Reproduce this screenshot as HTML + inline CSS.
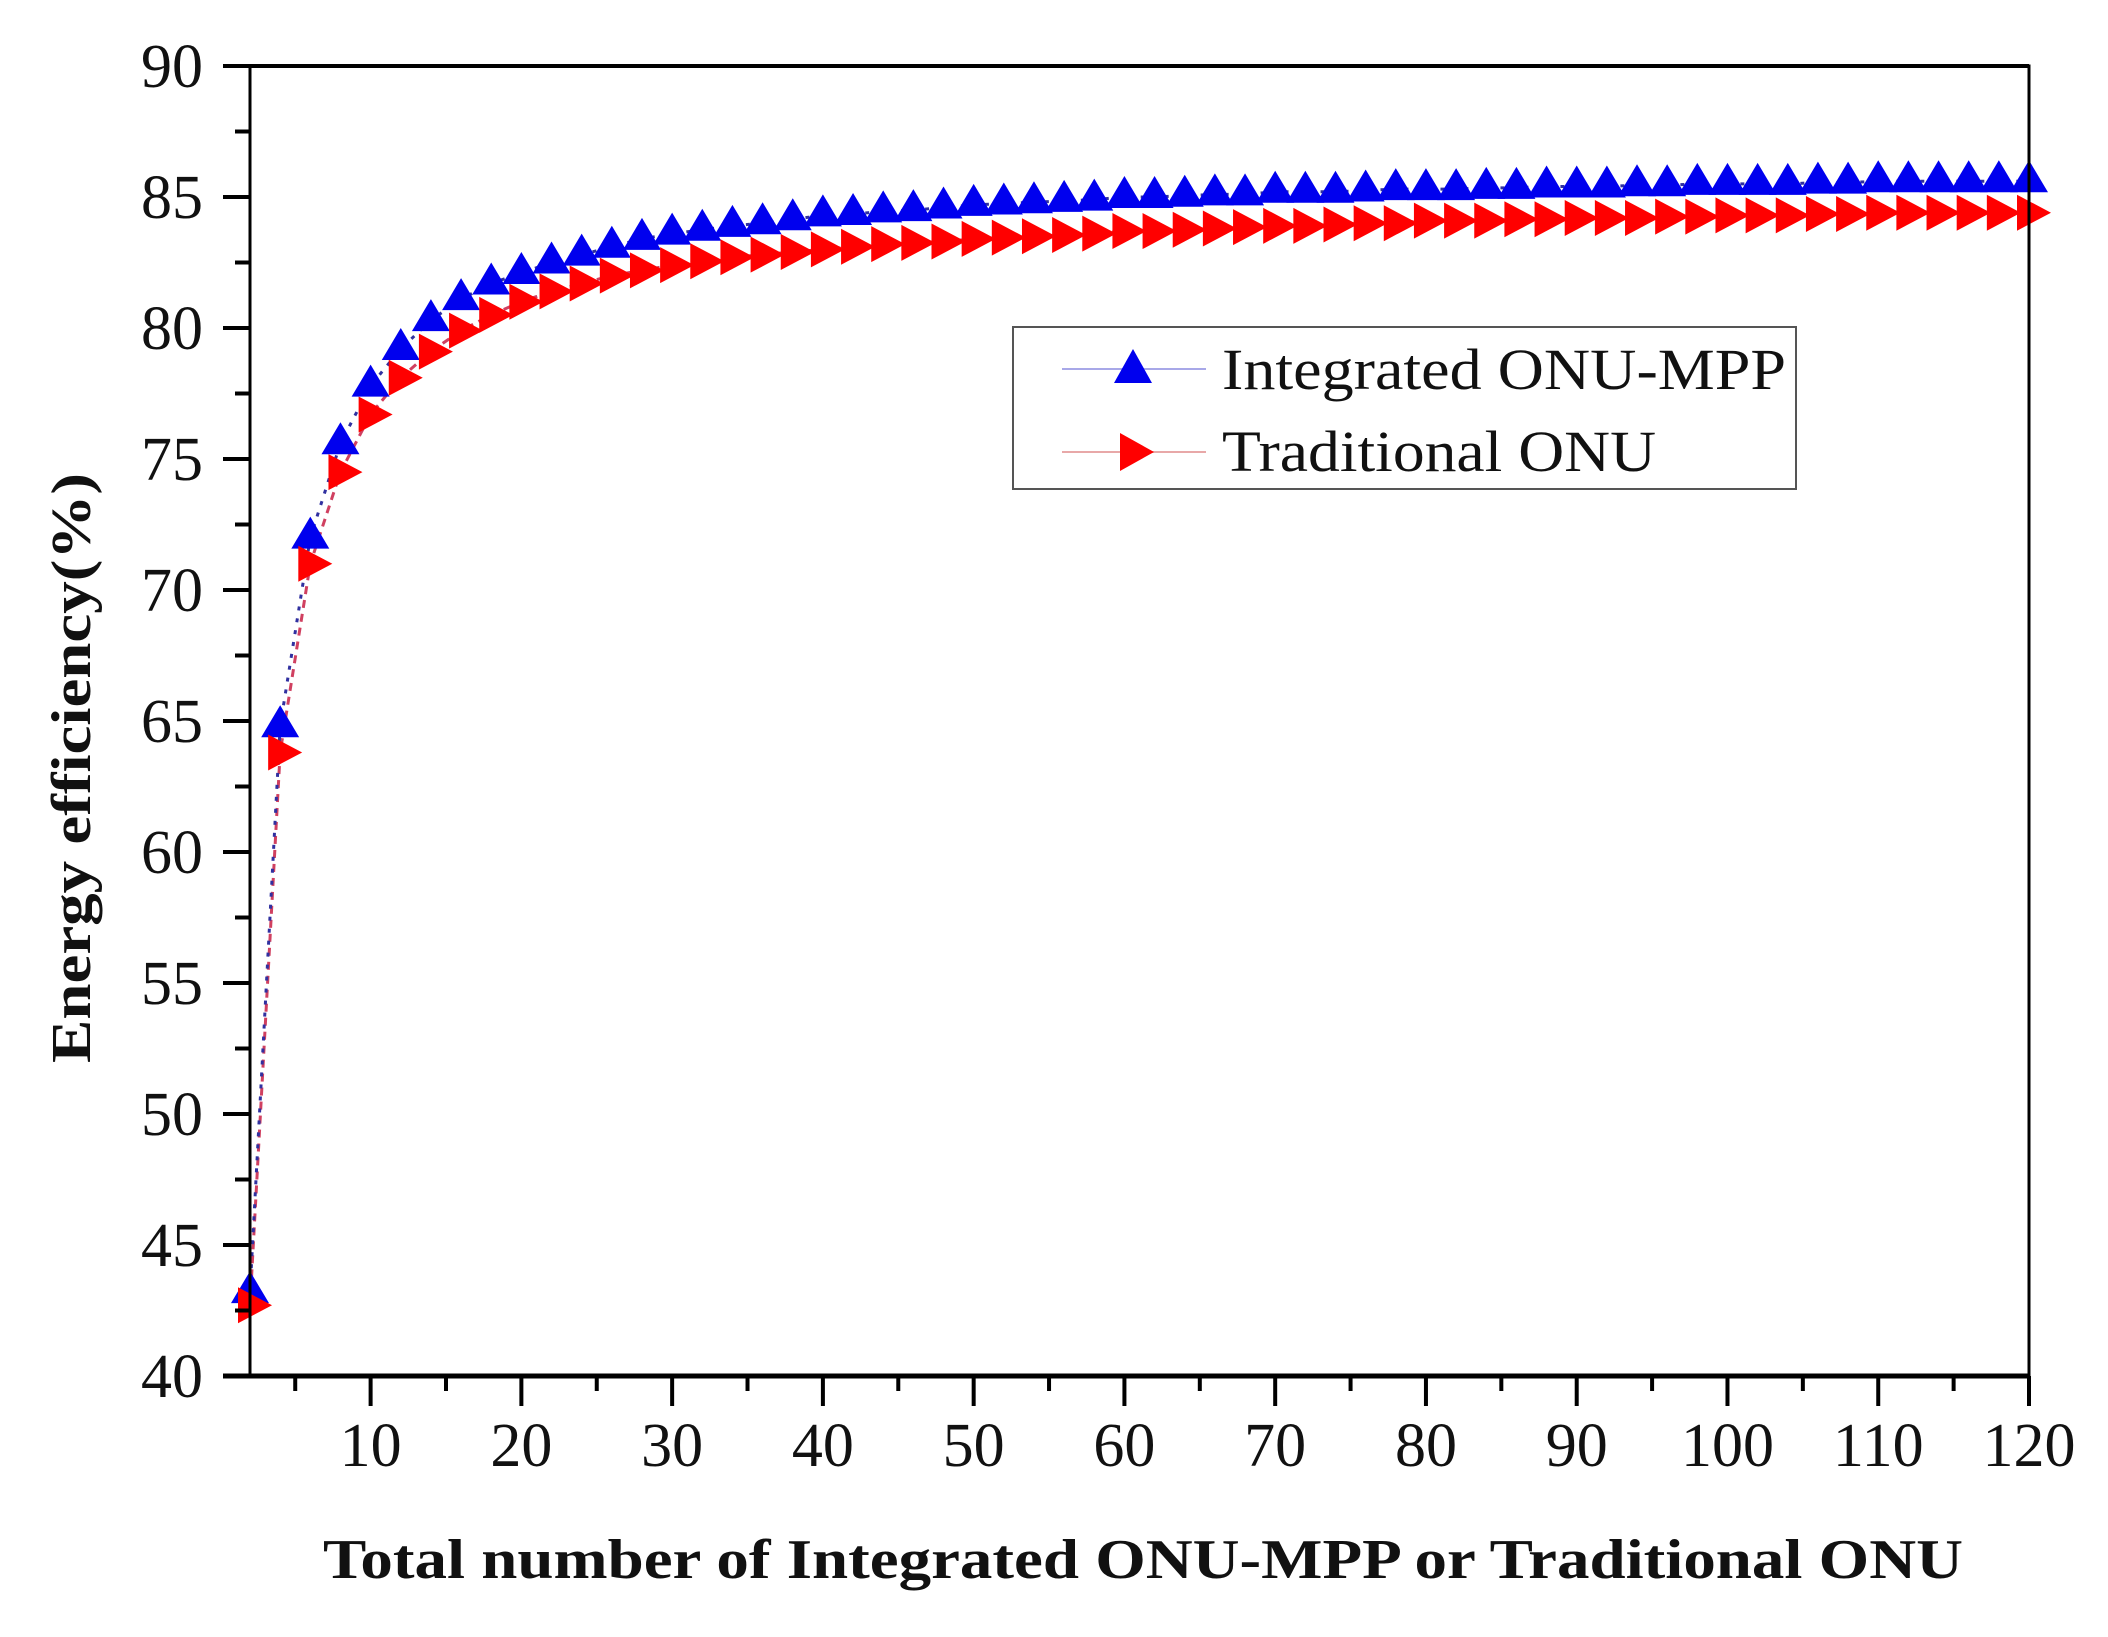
<!DOCTYPE html>
<html><head><meta charset="utf-8"><style>
html,body{margin:0;padding:0;background:#fff;}
svg{display:block;}
text{font-family:"Liberation Serif",serif;fill:#111;}
</style></head><body>
<svg id="chart" width="2108" height="1637" viewBox="0 0 2108 1637" xmlns="http://www.w3.org/2000/svg">
<g id="plot"></g>
<g id="axes"></g>
<text transform="translate(90,768) rotate(-90)" text-anchor="middle" font-size="56" font-weight="bold" textLength="590" lengthAdjust="spacingAndGlyphs">Energy efficiency(%)</text>
<text x="1143" y="1578" text-anchor="middle" font-size="56" font-weight="bold" textLength="1640" lengthAdjust="spacingAndGlyphs">Total number of Integrated ONU-MPP or Traditional ONU</text>
<g>
<rect x="1013" y="327" width="783" height="162" fill="#fff" stroke="#555" stroke-width="2"/>
<g>
<line x1="1062" y1="369" x2="1206" y2="369" stroke="#a8a8e8" stroke-width="2"/>
<polygon points="1114,383 1152,383 1133,349" fill="#0000ee"/>
<text x="1222" y="389" font-size="58" textLength="564" lengthAdjust="spacingAndGlyphs">Integrated ONU-MPP</text>
</g>
<g>
<line x1="1062" y1="452" x2="1206" y2="452" stroke="#e8a8a8" stroke-width="2"/>
<polygon points="1120,433 1120,471 1154,452" fill="#ff0000"/>
<text x="1222" y="471" font-size="58" textLength="434" lengthAdjust="spacingAndGlyphs">Traditional ONU</text>
</g>
</g>
</svg>
<script>
const xValues = [2,4,6,8,10,12,14,16,18,20,22,24,26,28,30,32,34,36,38,40,42,44,46,48,50,52,54,56,58,60,62,64,66,68,70,72,74,76,78,80,82,84,86,88,90,92,94,96,98,100,102,104,106,108,110,112,114,116,118,120];
const integratedValues = [43.2,64.8,72.0,75.6,77.8,79.2,80.3,81.1,81.7,82.1,82.5,82.8,83.1,83.4,83.6,83.75,83.9,84.0,84.15,84.3,84.35,84.45,84.5,84.6,84.7,84.75,84.8,84.85,84.9,85.0,85.0,85.05,85.1,85.1,85.2,85.2,85.2,85.25,85.3,85.3,85.3,85.35,85.35,85.4,85.4,85.4,85.45,85.45,85.5,85.5,85.5,85.5,85.55,85.55,85.6,85.6,85.6,85.6,85.6,85.6];
const traditionalValues = [42.7,63.8,71.0,74.5,76.7,78.1,79.1,79.9,80.5,81.0,81.4,81.7,82.0,82.2,82.4,82.55,82.7,82.8,82.9,83.0,83.1,83.2,83.25,83.3,83.4,83.45,83.5,83.55,83.6,83.7,83.7,83.75,83.8,83.85,83.9,83.9,83.95,84.0,84.0,84.1,84.1,84.1,84.15,84.15,84.2,84.2,84.2,84.25,84.25,84.3,84.3,84.3,84.35,84.35,84.4,84.4,84.4,84.4,84.4,84.4];
const yTicks = [40,45,50,55,60,65,70,75,80,85,90];
const xTicks = [10,20,30,40,50,60,70,80,90,100,110,120];

const NS = "http://www.w3.org/2000/svg";
const L = 250, R = 2029, T = 66, B = 1376;
const XMIN = 2, XMAX = 120, YMIN = 40, YMAX = 90;
function sx(v){ return L + (v - XMIN) / (XMAX - XMIN) * (R - L); }
function sy(v){ return B - (v - YMIN) / (YMAX - YMIN) * (B - T); }
function mk(tag, attrs, parent){ const e = document.createElementNS(NS, tag); for (const k in attrs) e.setAttribute(k, attrs[k]); parent.appendChild(e); return e; }

const axes = document.getElementById('axes');
const plot = document.getElementById('plot');

const frame = mk('rect', {x:L, y:T, width:R-L, height:B-T, fill:'none', stroke:'#000', 'stroke-width':3}, axes);


const xAxisLine = mk('line', {x1:L-27, y1:B, x2:R, y2:B, stroke:'#000', 'stroke-width':5}, axes);


const topLine = mk('line', {x1:L-27, y1:T, x2:R, y2:T, stroke:'#000', 'stroke-width':4}, axes);



yTicks.forEach(function(v, i){
  const t = mk('line', {x1:L-27, y1:sy(v), x2:L, y2:sy(v), stroke:'#000', 'stroke-width':4}, axes);
  
  
  const lb = mk('text', {x:203, y:sy(v)+21, 'text-anchor':'end', 'font-size':62}, axes);
  lb.textContent = v;
  
  
  if (i < yTicks.length - 1) {
    const m = mk('line', {x1:L-15, y1:sy(v+2.5), x2:L, y2:sy(v+2.5), stroke:'#000', 'stroke-width':4}, axes);
    
    
  }
});
xTicks.forEach(function(v){
  const t = mk('line', {x1:sx(v), y1:B, x2:sx(v), y2:B+30, stroke:'#000', 'stroke-width':4}, axes);
  
  
  const m = mk('line', {x1:sx(v-5), y1:B, x2:sx(v-5), y2:B+15, stroke:'#000', 'stroke-width':4}, axes);
  
  
  const lb = mk('text', {x:sx(v), y:1466, 'text-anchor':'middle', 'font-size':62}, axes);
  lb.textContent = v;
  
  
});

function pts(vals){ return xValues.map(function(x, i){ return sx(x) + ',' + sy(vals[i]); }).join(' '); }
const lineT = mk('polyline', {points:pts(traditionalValues), fill:'none', stroke:'#d04060', 'stroke-width':3, 'stroke-dasharray':'8,6'}, plot);


const lineI = mk('polyline', {points:pts(integratedValues), fill:'none', stroke:'#3030a0', 'stroke-width':3, 'stroke-dasharray':'4,8'}, plot);



xValues.forEach(function(x, i){
  const cx = sx(x), cy = sy(integratedValues[i]);
  const p = mk('polygon', {points:(cx-19)+','+(cy+11)+' '+(cx+19)+','+(cy+11)+' '+cx+','+(cy-21), fill:'#0000ee'}, plot);
  
  
});
xValues.forEach(function(x, i){
  const cx = sx(x), cy = sy(traditionalValues[i]);
  const p = mk('polygon', {points:(cx-12)+','+(cy-18)+' '+(cx-12)+','+(cy+18)+' '+(cx+22)+','+cy, fill:'#ff0000'}, plot);
  
  
});
</script>
</body></html>
